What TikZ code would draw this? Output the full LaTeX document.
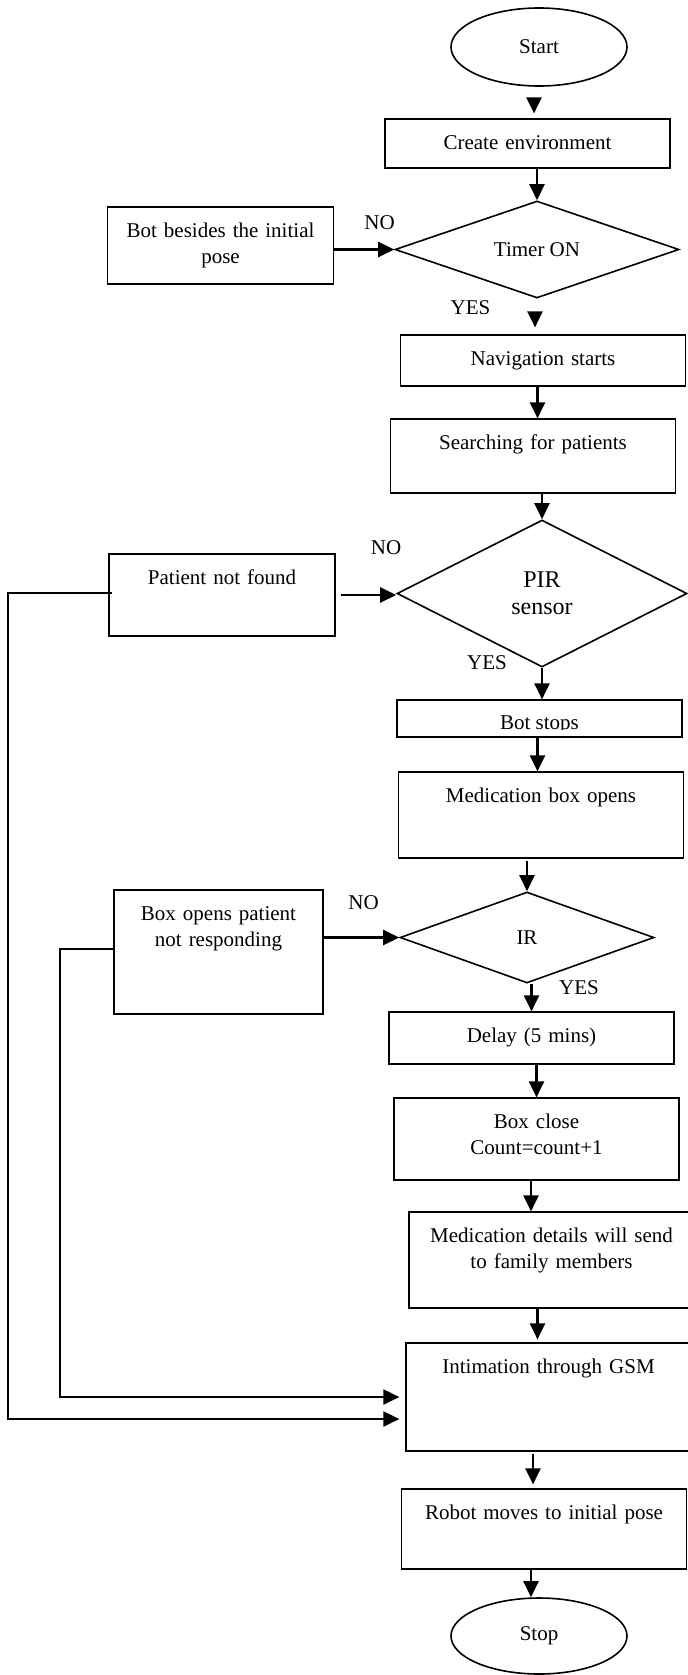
\documentclass[tikz,border=0pt]{standalone}
\usepackage{fontspec}
\setmainfont{Liberation Serif}
\usetikzlibrary{shapes.geometric,arrows.meta}

\begin{document}
\begin{tikzpicture}[x=0.5pt,y=-0.5pt,font=\fontsize{10.5}{13}\selectfont,
    proc/.style={draw,line width=0.6pt,inner sep=0pt,text width=142.5pt,align=center,text height=15pt,text depth=#1},
    dec/.style={draw,diamond,line width=0.8pt,inner sep=0pt,aspect=2,align=center},
    term/.style={draw,ellipse,line width=0.8pt,minimum width=88pt,minimum height=39pt},
    flow/.style={-{Triangle[length=8pt,width=7.5pt]},line width=1.2pt},
    fb/.style={flow,line width=1pt,shorten >=3pt}]
  \useasboundingbox (0,0) rectangle (688,1675);
  \node[term] (start) at (539,47) {Start};
  \node[proc=9.5pt] (env) at (527.5,143.5) {Create environment};
  \node[dec,minimum width=142pt,minimum height=48.5pt] (timer) at (537,249.5) {Timer ON};
  \node[proc=23.5pt,text width=113pt] (besides) at (220.5,245.5) {Bot besides the initial\\pose};
  \node[proc=10.5pt] (nav) at (543,360.5) {Navigation starts};
  \node[proc=22pt] (search) at (533,456) {Searching for patients};
  \node[dec,minimum width=145pt,minimum height=73.5pt,font=\fontsize{12}{13.5}\selectfont] (pir) at (542,593.5) {PIR\\sensor};
  \node[proc=26pt,text width=113pt] (notfound) at (222,595) {Patient not found};
  \node[proc=3.5pt] (stops) at (539.5,718.5) {};
  \begin{scope}
    \clip (stops.north west) rectangle ([yshift=4pt]stops.south east);
    \node[anchor=base,inner sep=0pt] (stopstext) at ([yshift=-15pt]stops.north) {Bot stops};
  \end{scope}
  \node[proc=28pt] (medbox) at (541,815) {Medication box opens};
  \node[dec,minimum width=127pt,minimum height=45.5pt] (ir) at (527,937.5) {IR};
  \node[proc=47pt,text width=104.5pt] (respond) at (218.5,952) {Box opens patient\\not responding};
  \node[proc=11pt] (delay) at (531.5,1038) {Delay (5 mins)};
  \node[proc=26pt] (close) at (536.5,1139) {Box close\\Count=count+1};
  \node[proc=33pt] (details) at (551.5,1260) {Medication details will send\\to family members};
  \node[proc=39pt] (gsm) at (548.5,1397) {Intimation through GSM};
  \node[proc=25pt] (robot) at (544,1529) {Robot moves to initial pose};
  \node[term,minimum height=38pt] (stop) at (539,1636) {Stop};
  \node (no1) at (379.5,223) {NO};
  \node (yes1) at (470.5,308) {YES};
  \node (no2) at (386,548) {NO};
  \node (yes2) at (487,663) {YES};
  \node (no3) at (363.5,903) {NO};
  \node (yes3) at (579,988) {YES};
  \draw[flow,shorten <=6pt,shorten >=2.5pt] ([xshift=-2.5pt]start.south) -- ([xshift=-2.5pt]start.south |- env.north);
  \draw[flow] (timer.north |- env.south) -- (timer.north);
  \draw[flow] (timer.west -| besides.east) -- (timer.west);
  \draw[flow,shorten <=7pt,shorten >=3.5pt] ([xshift=-1pt]timer.south) -- ([xshift=-1pt]timer.south |- nav.north);
  \draw[flow] ([xshift=-2.75pt]nav.south) -- ([xshift=-2.75pt]nav.south |- search.north);
  \draw[flow] (pir.north |- search.south) -- (pir.north);
  \draw[flow,shorten <=2.5pt] (notfound.east) -- (notfound.east -| pir.west);
  \draw[flow] (pir.south) -- (pir.south |- stops.north);
  \draw[flow] ([xshift=-1pt]stops.south) -- ([xshift=-1pt]stops.south |- medbox.north);
  \draw[flow,shorten <=1pt] (ir.north |- medbox.south) -- (ir.north);
  \draw[flow] (ir.west -| respond.east) -- (ir.west);
  \draw[flow] (delay.north |- ir.south) -- (delay.north);
  \draw[flow] (close.north |- delay.south) -- (close.north);
  \draw[flow] ([xshift=-2.75pt]close.south) -- ([xshift=-2.75pt]close.south |- details.north);
  \draw[flow,shorten >=1.5pt] ([xshift=-7pt]details.south) -- ([xshift=-7pt]details.south |- gsm.north);
  \draw[flow,shorten <=1pt,shorten >=2pt] ([xshift=-7.75pt]gsm.south) -- ([xshift=-7.75pt]gsm.south |- robot.north);
  \draw[flow] ([xshift=-4pt]stop.north |- robot.south) -- ([xshift=-4pt]stop.north);
  \draw[fb] ([shift={(2pt,1pt)}]notfound.west) -- ++(-104,0) |- ([yshift=-11pt]gsm.west);
  \draw[fb] ([yshift=1.5pt]respond.west) -- ++(-53,0) |- (gsm.west);
\end{tikzpicture}
\end{document}
